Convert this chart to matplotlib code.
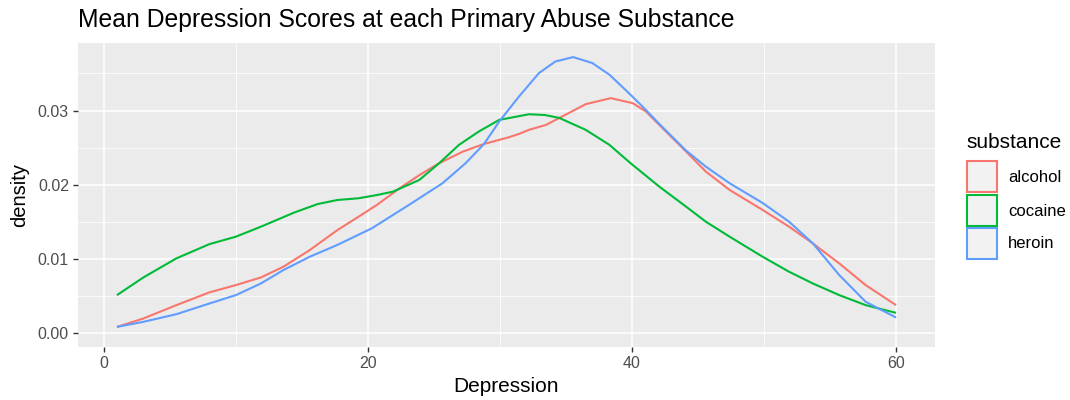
import matplotlib
matplotlib.use("Agg")
import matplotlib.pyplot as plt
from matplotlib.patches import Rectangle
from matplotlib.ticker import MultipleLocator

plt.rcParams['font.family'] = ['Liberation Sans', 'DejaVu Sans']

substances = ["alcohol", "cocaine", "heroin"]
colors = ["#F8766D", "#00BA38", "#619CFF"]

alcohol_x = [1, 3, 5.5, 8, 10, 11.9, 13.6, 15.6, 17.7, 19.3, 20.7, 22.4, 23.9, 25.4, 27.2, 28.8,
             30.6, 31.45, 32.2, 33.5, 34.5, 36.5, 38.4, 40.05, 41.06, 42.07, 44.1, 45.6, 47.4,
             49.9, 51.9, 53.7, 55.7, 57.7, 60]
alcohol_y = [0.00085, 0.00198, 0.00378, 0.0055, 0.00648, 0.00751, 0.00895, 0.0112, 0.0139, 0.0157,
             0.0173, 0.01953, 0.0213, 0.0229, 0.02447, 0.0255, 0.02636, 0.02685, 0.0274, 0.02807,
             0.029, 0.03086, 0.03167, 0.031, 0.02987, 0.02807, 0.02447, 0.02177, 0.0193, 0.0166,
             0.01435, 0.0121, 0.0094, 0.00648, 0.00378]

cocaine_x = [1, 3, 5.5, 8, 10, 11.9, 14.4, 16.2, 17.7, 19.3, 20.7, 21.9, 23.9, 25.4, 26.9, 28.4,
             29.95, 32.2, 33.4, 34.5, 36.5, 38.3, 39.9, 42.07, 44.1, 45.6, 47.4, 49.9, 51.9, 53.7,
             55.7, 57.7, 60]
cocaine_y = [0.00513, 0.00751, 0.01008, 0.0120, 0.0130, 0.01435, 0.01624, 0.0174, 0.01795, 0.01818,
             0.01862, 0.01907, 0.02065, 0.0229, 0.02537, 0.02717, 0.02874, 0.0295, 0.0294, 0.029,
             0.0274, 0.02537, 0.0229, 0.01975, 0.01705, 0.01502, 0.013, 0.0103, 0.00828, 0.0067,
             0.00513, 0.00378, 0.00274]

heroin_x = [1, 3, 5.5, 8, 10, 11.9, 13.6, 15.6, 17.7, 20.3, 23.1, 25.65, 27.4, 28.8, 29.95, 31.45,
            32.96, 34.2, 35.55, 37.0, 38.3, 39.5, 40.8, 42.07, 44.1, 45.6, 47.4, 49.9, 51.9, 53.7,
            55.7, 57.7, 60]
heroin_y = [0.00085, 0.00153, 0.00256, 0.0040, 0.00513, 0.0067, 0.0085, 0.0103, 0.0119, 0.01413,
            0.01727, 0.0202, 0.0229, 0.0255, 0.02852, 0.0319, 0.03505, 0.03661, 0.0372, 0.0364,
            0.03482, 0.0328, 0.03054, 0.0282, 0.0246, 0.02244, 0.0202, 0.01754, 0.01502, 0.0121,
            0.00783, 0.00423, 0.00211]

series = [(alcohol_x, alcohol_y), (cocaine_x, cocaine_y), (heroin_x, heroin_y)]

W, H = 1070, 400
fig = plt.figure(figsize=(W / 100, H / 100), dpi=100)
left, right, top, bottom = 78, 935, 43, 347
ax = fig.add_axes([left / W, (H - bottom) / H, (right - left) / W, (bottom - top) / H])
ax.set_facecolor("#EBEBEB")
for s in ax.spines.values():
    s.set_visible(False)

ax.set_xlim(-1.95, 62.95)
ax.set_ylim(-0.00186, 0.0391)
ax.xaxis.set_major_locator(MultipleLocator(20))
ax.xaxis.set_minor_locator(MultipleLocator(10))
ax.yaxis.set_major_locator(MultipleLocator(0.01))
ax.yaxis.set_minor_locator(MultipleLocator(0.005))
ax.grid(which="major", color="white", lw=1.1)
ax.grid(which="minor", color="white", lw=0.55)
ax.set_axisbelow(True)
ax.tick_params(which="major", length=3.5, width=1, color="#333333", labelcolor="#4D4D4D",
               labelsize=11.5, pad=3)
ax.tick_params(which="minor", length=0)
ax.set_yticks([0, 0.01, 0.02, 0.03])
ax.set_yticklabels(["0.00", "0.01", "0.02", "0.03"])

for (xs, ys), c in zip(series, colors):
    ax.plot(xs, ys, color=c, lw=1.5, solid_capstyle="butt", solid_joinstyle="round")

ax.set_xlabel("Depression", fontsize=15, labelpad=4)
ax.set_ylabel("density", fontsize=14.5, labelpad=6)
fig.text(78 / W, 1 - 20 / H, "Mean Depression Scores at each Primary Abuse Substance",
         fontsize=17.8, ha="left", va="center")

# legend
fig.text(966 / W, 1 - 143 / H, "substance", fontsize=15, ha="left", va="center")
key_tops = [161.5, 195, 227.5]
for kt, c, name in zip(key_tops, colors, substances):
    r = Rectangle((966.5 / W, 1 - (kt + 31) / H), 30 / W, 31 / H, transform=fig.transFigure,
                  facecolor="#F2F2F2", edgecolor=c, lw=1.5)
    fig.add_artist(r)
    fig.text(1008 / W, 1 - (kt + 16) / H, name, fontsize=12, ha="left", va="center")

fig.savefig("out.png", dpi=100)
